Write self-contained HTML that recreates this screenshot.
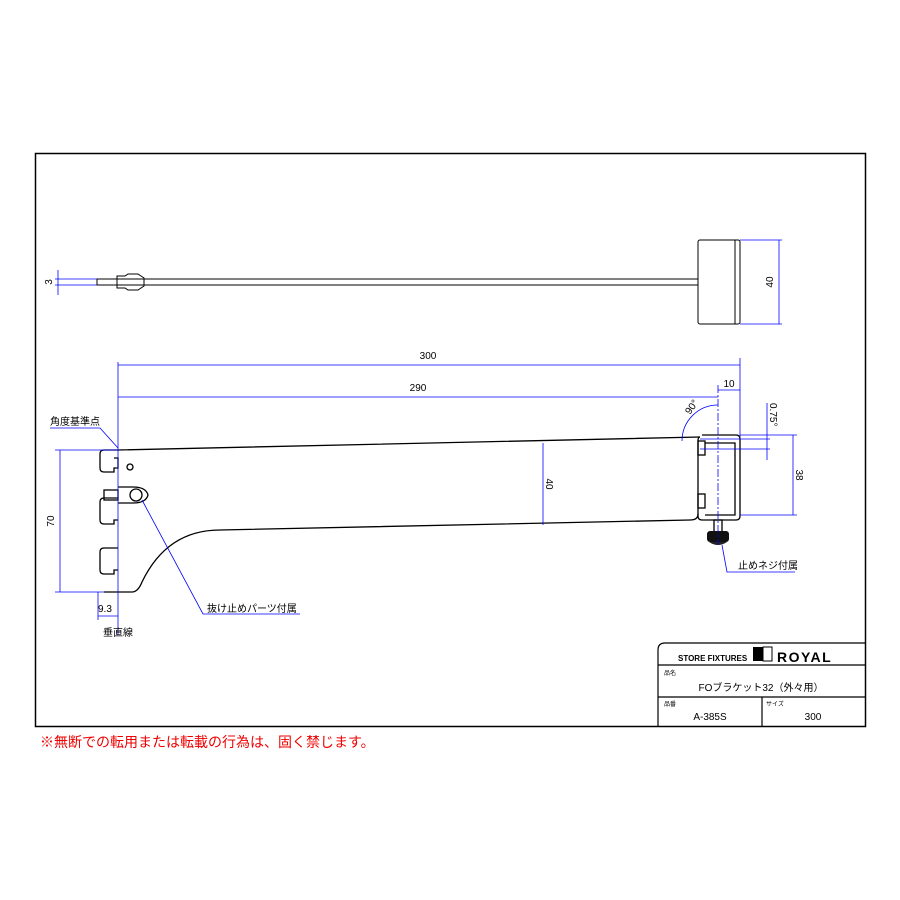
<!DOCTYPE html><html><head><meta charset="utf-8"><style>body{margin:0;background:#fff}svg{display:block}text{font-family:"Liberation Sans","Noto Sans CJK JP",sans-serif}</style></head><body>
<svg width="900" height="900" viewBox="0 0 900 900">
<rect x="35.5" y="153.5" width="830" height="573" fill="none" stroke="#000" stroke-width="1.5"/>
<g stroke="#000" fill="none" stroke-width="1">
<rect x="97" y="279" width="601" height="6"/>
<path d="M117 276h8l3 -2h10l6 4v8l-6 4h-10l-3 -2h-8z"/>
<rect x="698" y="240" width="42" height="84" rx="2"/>
<line x1="735" y1="240" x2="735" y2="324"/>
</g>
<g stroke="#00f" stroke-width="0.8" fill="none">
<line x1="740" y1="240" x2="782" y2="240"/><line x1="740" y1="324" x2="782" y2="324"/>
<line x1="779" y1="240" x2="779" y2="324"/>
<line x1="55" y1="279" x2="97" y2="279"/><line x1="55" y1="285" x2="97" y2="285"/>
<line x1="58" y1="270" x2="58" y2="295"/>
</g>
<text x="773" y="282" font-size="10" transform="rotate(-90 773 282)" text-anchor="middle">40</text>
<text x="52" y="282" font-size="10" transform="rotate(-90 52 282)" text-anchor="middle">3</text>
<g stroke="#000" fill="none" stroke-width="1.3">
<path d="M118 450 L700 437 M104 450 h14 M104 450 q-4 0 -4 4 v14 q0 4 4 4 h10 v-4 h4 v-10 h-4 M100 502 v18 q0 4 4 4 h10 v-4 h4 M100 552 v18 q0 4 4 4 h10 v-4 h4 M100 502 q0 -4 4 -4 h14 M100 552 q0 -4 4 -4 h14 M104 592 h28 q6 0 10 -10 q25 -52 78 -52 L690 520 q8 0 8 -6"/>
<path d="M700 437 q-2 0 -2 4 v75 q0 4 4 4 h34 q4 0 4 -4 v-77 q0 -4 -4 -4 h-34"/>
<path d="M705 443 h30 v72 h-30"/>
<rect x="698" y="441" width="7" height="14"/><rect x="698" y="494" width="7" height="14"/>
<circle cx="130" cy="467" r="3"/>
<path d="M118 487 h15 q13 0 15 8 q-2 8 -15 8 h-15"/><circle cx="136" cy="495" r="6"/>
<rect x="104" y="490" width="14" height="10"/>
<rect x="714" y="520" width="8" height="14"/>
</g>
<rect x="707" y="531" width="22" height="11" rx="3" fill="#111"/>
<path d="M709 542 q9 6 18 0z" fill="#222"/>
<g stroke="#00f" stroke-width="0.8" fill="none">
<line x1="118" y1="362" x2="118" y2="635"/>
<line x1="118" y1="365" x2="740" y2="365"/><line x1="740" y1="358" x2="740" y2="437"/>
<line x1="118" y1="397" x2="718" y2="397"/><line x1="718" y1="385" x2="718" y2="545" stroke-dasharray="8 2 2 2"/>
<line x1="718" y1="390" x2="740" y2="390"/>
<path d="M682 441 A36 36 0 0 1 718 405"/>
<line x1="55" y1="450" x2="118" y2="450"/><line x1="55" y1="592" x2="104" y2="592"/>
<line x1="60" y1="450" x2="60" y2="592"/>
<line x1="98" y1="592" x2="98" y2="620"/><line x1="98" y1="616" x2="118" y2="616"/>
<line x1="543" y1="443" x2="543" y2="525"/>
<line x1="740" y1="435" x2="797" y2="435"/><line x1="740" y1="515" x2="797" y2="515"/>
<line x1="793" y1="435" x2="793" y2="515"/>
<line x1="700" y1="439" x2="770" y2="439"/><line x1="700" y1="449" x2="770" y2="449"/>
<line x1="767" y1="403" x2="767" y2="460"/>
<path d="M50 428 H100 L118 448"/>
<path d="M142 500 L203 614 H300"/>
<path d="M722 545 L727 572 H795"/>
</g>
<g font-size="10" fill="#000">
<text x="428" y="359" text-anchor="middle">300</text>
<text x="418" y="391" text-anchor="middle">290</text>
<text x="729" y="387" text-anchor="middle">10</text>
<text x="690" y="415" transform="rotate(-55 690 415)">90°</text>
<text x="770" y="403" transform="rotate(90 770 403)">0.75°</text>
<text x="796" y="475" transform="rotate(90 796 475)" text-anchor="middle">38</text>
<text x="546" y="484" transform="rotate(90 546 484)" text-anchor="middle">40</text>
<text x="54" y="521" transform="rotate(-90 54 521)" text-anchor="middle">70</text>
<text x="98" y="612">9.3</text>
<text x="50" y="425">角度基準点</text>
<text x="207" y="612">抜け止めパーツ付属</text>
<text x="738" y="569">止めネジ付属</text>
<text x="103" y="636">垂直線</text>
</g>
<g stroke="#000" stroke-width="1.2" fill="none">
<path d="M658 727 V650 q0 -7 7 -7 H866"/>
<line x1="658" y1="665" x2="866" y2="665"/><line x1="658" y1="697" x2="866" y2="697"/>
<line x1="762" y1="697" x2="762" y2="727"/>
</g>
<rect x="753" y="647" width="10" height="14" fill="#000"/><rect x="763" y="647" width="9" height="14" fill="none" stroke="#000"/>
<text x="678" y="661" font-size="8" font-weight="bold">STORE FIXTURES</text>
<text x="777" y="662" font-size="14" font-weight="bold" letter-spacing="1.5">ROYAL</text>
<text x="664" y="675" font-size="6">品名</text>
<text x="761" y="691" font-size="10" text-anchor="middle">FOブラケット32（外々用）</text>
<text x="664" y="706" font-size="6">品番</text>
<text x="766" y="706" font-size="6">サイズ</text>
<text x="710" y="720" font-size="10" text-anchor="middle">A-385S</text>
<text x="813" y="720" font-size="10" text-anchor="middle">300</text>
<text x="40" y="747" font-size="14" fill="#e00">※無断での転用または転載の行為は、固く禁じます。</text>
</svg></body></html>
